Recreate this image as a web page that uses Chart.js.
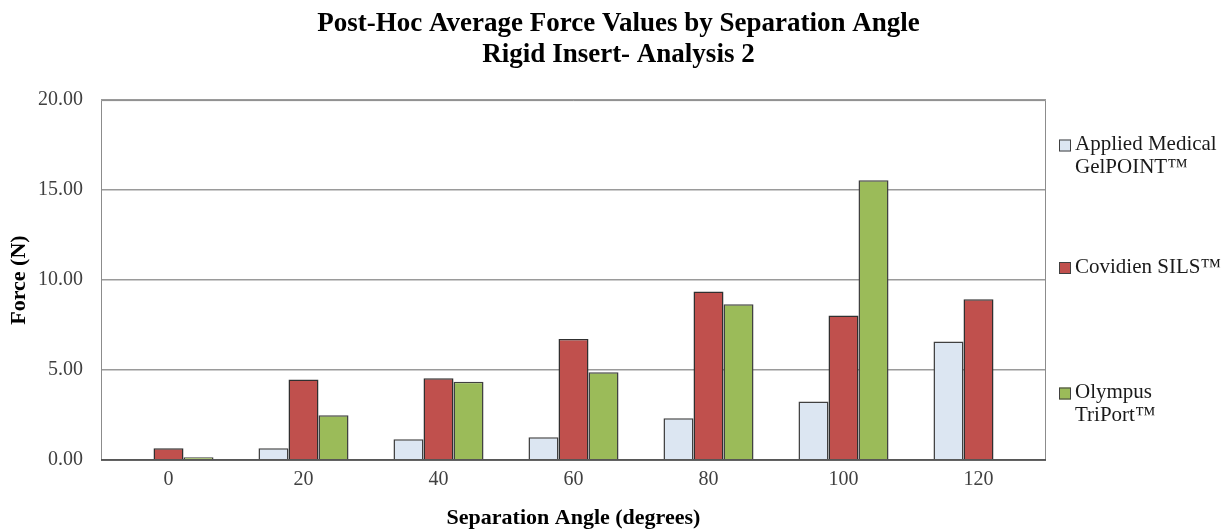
<!DOCTYPE html>
<html>
<head>
<meta charset="utf-8">
<script src="https://cdn.jsdelivr.net/npm/chart.js@4.4.1/dist/chart.umd.min.js"></script>
<style>
  html, body { margin: 0; padding: 0; background: #fff; }
  #wrap { width: 1229px; height: 529px; }
</style>
</head>
<body>
<div id="wrap"><canvas id="forceChart" width="1229" height="529"></canvas></div>
<script>
const categories = ['0', '20', '40', '60', '80', '100', '120'];
const appliedMedical = [0, 0.65, 1.15, 1.27, 2.32, 3.25, 6.58];
const covidien = [0.65, 4.48, 4.54, 6.73, 9.36, 8.03, 8.93];
const olympus = [0.15, 2.48, 4.35, 4.88, 8.66, 15.54, null];
const seriesNames = ['Applied Medical GelPOINT™', 'Covidien SILS™', 'Olympus TriPort™'];
const legendLines = [['Applied Medical', 'GelPOINT™'], ['Covidien SILS™'], ['Olympus', 'TriPort™']];
const yTicks = [0, 5, 10, 15, 20];

const serif = '"Liberation Serif", "Times New Roman", serif';

// frame around the plot + the wrapped legend on the right
const frameAndLegend = {
    id: 'frameAndLegend',
    afterDatasetsDraw(chart) {
        const { ctx, chartArea: a } = chart;
        ctx.save();
        ctx.strokeStyle = '#8c8c8c';
        ctx.lineWidth = 1;
        ctx.beginPath();
        ctx.moveTo(a.left + 0.5, a.bottom);
        ctx.lineTo(a.left + 0.5, a.top + 0.5);
        ctx.lineTo(a.right - 0.5, a.top + 0.5);
        ctx.lineTo(a.right - 0.5, a.bottom);
        ctx.stroke();
        ctx.strokeStyle = '#404040';
        ctx.lineWidth = 1.5;
        ctx.beginPath();
        ctx.moveTo(a.left, a.bottom);
        ctx.lineTo(a.right, a.bottom);
        ctx.stroke();
        ctx.restore();
    },
    afterDraw(chart) {
        const { ctx } = chart;
        const centers = [156, 267, 404];
        ctx.save();
        ctx.font = '21px ' + serif;
        ctx.textBaseline = 'middle';
        chart.data.datasets.forEach((ds, i) => {
            const lines = legendLines[i];
            const lh = 23;
            const y0 = centers[i] - (lines.length - 1) * lh / 2;
            ctx.fillStyle = ds.backgroundColor;
            ctx.strokeStyle = '#404040';
            ctx.lineWidth = 1;
            ctx.fillRect(1059, y0 - 5, 12, 12);
            ctx.strokeRect(1059.5, y0 - 4.5, 11, 11);
            ctx.fillStyle = '#1a1a1a';
            lines.forEach((t, k) => ctx.fillText(t, 1075, y0 + k * lh));
        });
        ctx.restore();
    }
};

new Chart(document.getElementById('forceChart'), {
    type: 'bar',
    data: {
        labels: categories,
        datasets: [
            {
                label: seriesNames[0],
                data: appliedMedical,
                backgroundColor: '#dce6f2',
                borderColor: '#404040',
                borderWidth: 1.5,
            },
            {
                label: seriesNames[1],
                data: covidien,
                backgroundColor: '#c0504d',
                borderColor: '#303030',
                borderWidth: 1.5,
            },
            {
                label: seriesNames[2],
                data: olympus,
                backgroundColor: '#9bbb59',
                borderColor: '#404040',
                borderWidth: 1.5,
            },
        ],
    },
    options: {
        responsive: false,
        animation: false,
        layout: { padding: { left: 8, right: 0, top: 0, bottom: 0 } },
        categoryPercentage: 0.667,
        barPercentage: 1,
        plugins: {
            legend: { display: false },
            tooltip: { enabled: false },
            title: {
                display: true,
                text: ['Post-Hoc Average Force Values by Separation Angle', 'Rigid Insert- Analysis 2'],
                color: '#000',
                font: { family: serif, size: 27, weight: 'bold', lineHeight: 1.15 },
                padding: { top: 8.5, bottom: 29.5 },
            },
        },
        scales: {
            x: {
                grid: { display: false, drawTicks: false },
                border: { display: false },
                ticks: {
                    color: '#404040',
                    padding: 8,
                    font: { family: serif, size: 20 },
                },
                title: {
                    display: true,
                    text: 'Separation Angle (degrees)',
                    color: '#000',
                    font: { family: serif, size: 22, weight: 'bold', lineHeight: 1 },
                    padding: { top: 0, bottom: 0 },
                },
                afterFit(scale) { scale.height = 69; },
            },
            y: {
                min: 0,
                max: 20,
                afterBuildTicks(scale) { scale.ticks = yTicks.map(v => ({ value: v })); },
                grid: { color: '#9a9a9a', lineWidth: 1.5, drawTicks: false },
                border: { display: false },
                ticks: {
                    color: '#404040',
                    padding: 18,
                    font: { family: serif, size: 20 },
                    callback: v => v.toFixed(2),
                },
                title: {
                    display: true,
                    text: 'Force (N)',
                    color: '#000',
                    font: { family: serif, size: 22, weight: 'bold', lineHeight: 1 },
                    padding: { top: 0, bottom: 0 },
                },
                afterFit(scale) { scale.width = 93; },
            },
            // empty axis that only reserves room for the legend on the right
            legendSpace: {
                type: 'linear',
                position: 'right',
                min: 0,
                max: 20,
                grid: { display: false, drawTicks: false },
                border: { display: false },
                ticks: { display: false },
                afterFit(scale) { scale.width = 183; },
            },
        },
    },
    plugins: [frameAndLegend],
});
</script>
</body>
</html>
